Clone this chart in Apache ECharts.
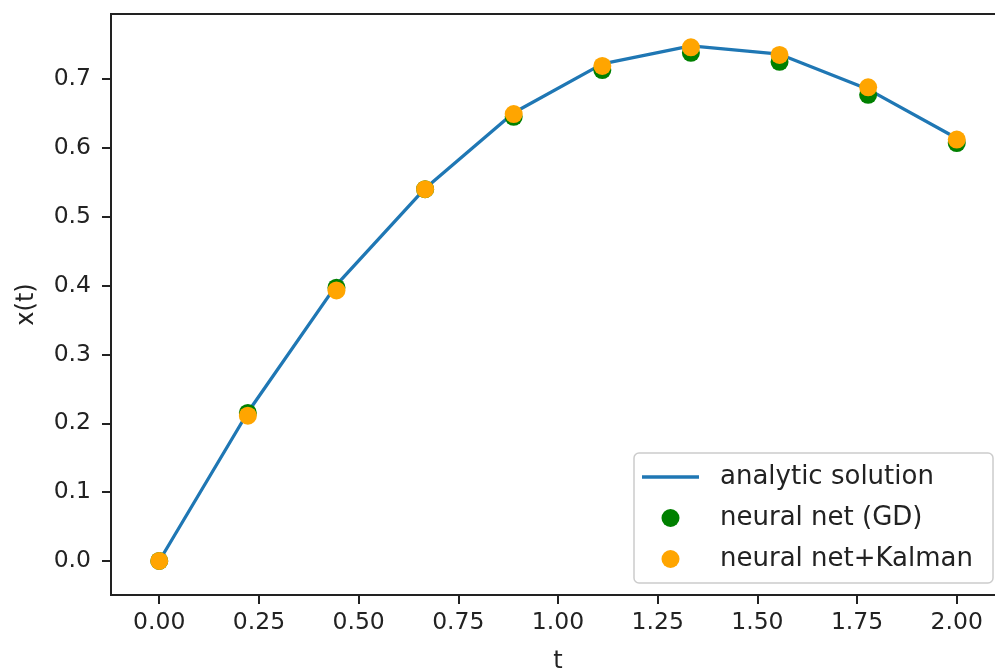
<!DOCTYPE html>
<html>
<head>
<meta charset="utf-8">
<script src="https://cdn.jsdelivr.net/npm/echarts@6/dist/echarts.min.js"></script>
<style>html,body{margin:0;padding:0;background:#fff;}#c{width:995px;height:671px;}</style>
</head>
<body>
<div id="c"></div>
<script>
const tValues = [0, 0.2222, 0.4444, 0.6667, 0.8889, 1.1111, 1.3333, 1.5556, 1.7778, 2.0];
const analytic = [0, 0.216, 0.401, 0.541, 0.651, 0.722, 0.748, 0.736, 0.685, 0.614];
const nnGD = [0, 0.215, 0.397, 0.540, 0.645, 0.713, 0.738, 0.725, 0.677, 0.607];
const nnKalman = [0, 0.211, 0.393, 0.540, 0.649, 0.719, 0.746, 0.735, 0.688, 0.612];
const xTicks = [0, 0.25, 0.5, 0.75, 1.0, 1.25, 1.5, 1.75, 2.0];
const yTicks = [0, 0.1, 0.2, 0.3, 0.4, 0.5, 0.6, 0.7];
const seriesNames = ['analytic solution', 'neural net (GD)', 'neural net+Kalman'];

const zip = (xs, ys) => xs.map((x, i) => [x, ys[i]]);
const font = 'DejaVu Sans';
const chart = echarts.init(document.getElementById('c'), null, {renderer: 'canvas'});
chart.setOption({
  animation: false,
  backgroundColor: '#fff',
  textStyle: {fontFamily: font},
  grid: {left: 111, top: 14, width: 894, height: 581, outerBoundsMode: 'none', containLabel: false,
         show: true, borderColor: '#222', borderWidth: 2, backgroundColor: 'transparent'},
  xAxis: {
    type: 'value', min: -0.121, max: 2.121,
    name: 't', nameLocation: 'middle', nameGap: 55,
    nameTextStyle: {fontFamily: font, fontSize: 24, color: '#222'},
    axisLine: {show: true, onZero: false, lineStyle: {color: '#222', width: 2}},
    axisTick: {show: true, length: 9, customValues: xTicks, lineStyle: {color: '#222', width: 2}},
    axisLabel: {show: true, customValues: xTicks, margin: 16, fontFamily: font, fontSize: 23.5, color: '#222', formatter: v => v.toFixed(2)},
    splitLine: {show: false}
  },
  yAxis: {
    type: 'value', min: -0.0494, max: 0.7944,
    name: 'x(t)', nameLocation: 'middle', nameGap: 72, nameRotate: 90,
    nameTextStyle: {fontFamily: font, fontSize: 24, color: '#222'},
    axisLine: {show: true, onZero: false, lineStyle: {color: '#222', width: 2}},
    axisTick: {show: true, length: 9, customValues: yTicks, lineStyle: {color: '#222', width: 2}},
    axisLabel: {show: true, customValues: yTicks, margin: 20, fontFamily: font, fontSize: 23.5, color: '#222', formatter: v => v.toFixed(1)},
    splitLine: {show: false}
  },
  legend: {
    orient: 'vertical', left: 634, top: 453,
    data: [
      {name: seriesNames[0], icon: 'path://M0,0H57V3.3H0Z'},
      {name: seriesNames[1], icon: 'circle'},
      {name: seriesNames[2], icon: 'circle'}
    ],
    itemWidth: 57, itemHeight: 18, itemGap: 15,
    padding: [11, 20, 11, 8],
    backgroundColor: 'rgba(255,255,255,0.8)',
    borderColor: '#cccccc', borderWidth: 1.5, borderRadius: 5,
    textStyle: {fontFamily: font, fontSize: 26, color: '#222', padding: [0, 0, 0, 16]}
  },
  series: [
    {name: seriesNames[0], type: 'line', data: zip(tValues, analytic), symbol: 'none', z: 2,
     lineStyle: {color: '#1f77b4', width: 3.3}, itemStyle: {color: '#1f77b4'}},
    {name: seriesNames[1], type: 'scatter', data: zip(tValues, nnGD), symbol: 'circle', symbolSize: 18, z: 3,
     itemStyle: {color: '#008000', opacity: 1}},
    {name: seriesNames[2], type: 'scatter', data: zip(tValues, nnKalman), symbol: 'circle', symbolSize: 18, z: 4,
     itemStyle: {color: '#ffa500', opacity: 1}}
  ]
});
</script>
</body>
</html>
